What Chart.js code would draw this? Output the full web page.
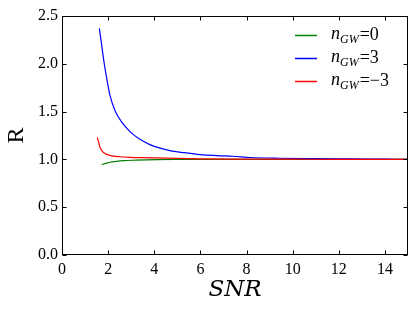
<!DOCTYPE html>
<html>
<head>
<meta charset="utf-8">
<script src="https://cdn.jsdelivr.net/npm/chart.js@4"></script>
<style>
html,body{margin:0;padding:0;background:#fff;}
#wrap{width:415px;height:312px;}
</style>
</head>
<body>
<div id="wrap"><canvas id="c" width="415" height="312"></canvas></div>
<script>
const xTicks = [0, 2, 4, 6, 8, 10, 12, 14];
const yTicks = [0.0, 0.5, 1.0, 1.5, 2.0, 2.5];
const seriesLabels = ["0", "3", "\u22123"];
const seriesColors = ["#008000", "#0000ff", "#ff0000"];

const snrGreen = [1.72, 1.9, 2.08, 2.35, 2.66, 3.2, 4.1, 5, 6, 8, 10, 12, 15];
const rGreen   = [0.945, 0.958, 0.970, 0.979, 0.987, 0.992, 0.997, 0.999, 1.0, 1.0, 1.0, 1.0, 1.0];

const snrBlue = [1.62, 1.72, 1.82, 1.94, 2.08, 2.3, 2.59, 2.95, 3.31, 3.81, 4.3, 4.68, 5.3, 5.98, 6.7, 7.42, 8.15, 9.45, 11, 12.5, 14, 15];
const rBlue   = [2.37, 2.195, 2.02, 1.845, 1.67, 1.51, 1.39, 1.29, 1.22, 1.155, 1.115, 1.092, 1.07, 1.05, 1.04, 1.033, 1.02, 1.012, 1.008, 1.005, 1.002, 1.0];

const snrRed = [1.53, 1.6, 1.65, 1.75, 1.86, 2.0, 2.22, 2.5, 2.95, 3.5, 4.1, 5, 6, 8, 10, 12, 15];
const rRed   = [1.23, 1.17, 1.125, 1.085, 1.062, 1.048, 1.035, 1.028, 1.022, 1.018, 1.015, 1.01, 1.006, 1.003, 1.002, 1.001, 1.0];

function pts(xs, ys){ return xs.map((x,i)=>({x:x, y:ys[i]})); }

const serif = "'Liberation Serif', 'Times New Roman', serif";

const frameTicks = {
  id: 'frameTicks',
  afterDraw(chart){
    const ctx = chart.ctx, ca = chart.chartArea;
    const xs = chart.scales.x, ys = chart.scales.y;
    const L = Math.round(ca.left)+0.5, R = Math.round(ca.right)-0.5;
    const T = Math.round(ca.top)+0.5, B = Math.round(ca.bottom)-0.5;
    ctx.save();
    ctx.strokeStyle = '#000';
    ctx.lineWidth = 1;
    ctx.beginPath();
    xTicks.forEach(v=>{
      const p = Math.round(xs.getPixelForValue(v))+0.5;
      ctx.moveTo(p, B); ctx.lineTo(p, B-4);
      ctx.moveTo(p, T); ctx.lineTo(p, T+4);
    });
    yTicks.forEach(v=>{
      const p = Math.round(ys.getPixelForValue(v))+0.5;
      ctx.moveTo(L, p); ctx.lineTo(L+4, p);
      ctx.moveTo(R, p); ctx.lineTo(R-4, p);
    });
    ctx.stroke();
    ctx.strokeRect(L, T, R-L, B-T);
    // legend
    const x0 = 295, x1 = 317, tx = 331;
    const rows = [35, 58, 81];
    chart.data.datasets.forEach((ds, i)=>{
      const y = rows[i];
      ctx.strokeStyle = ds.borderColor;
      ctx.lineWidth = 1.5;
      ctx.beginPath(); ctx.moveTo(x0, y+0.5); ctx.lineTo(x1, y+0.5); ctx.stroke();
      ctx.fillStyle = '#000';
      ctx.textBaseline = 'alphabetic';
      ctx.textAlign = 'left';
      let x = tx;
      ctx.font = "italic 18px " + serif;
      ctx.fillText('n', x, y+4); x += ctx.measureText('n').width;
      ctx.font = "italic 12px " + serif;
      ctx.fillText('GW', x, y+8); x += ctx.measureText('GW').width + 1;
      ctx.font = "18px " + serif;
      ctx.fillText('=' + seriesLabels[i], x, y+5);
    });
    ctx.restore();
  }
};

new Chart(document.getElementById('c'), {
  type: 'line',
  data: {
    datasets: [
      {label: 'n_GW=0', data: pts(snrGreen, rGreen), borderColor: seriesColors[0], order: 2},
      {label: 'n_GW=3', data: pts(snrBlue, rBlue), borderColor: seriesColors[1], order: 1},
      {label: 'n_GW=-3', data: pts(snrRed, rRed), borderColor: seriesColors[2], order: 0}
    ]
  },
  options: {
    responsive: false,
    animation: false,
    devicePixelRatio: 1,
    layout: {padding: {left: 0, right: 7, top: 16, bottom: 0}},
    elements: {
      point: {radius: 0},
      line: {borderWidth: 1.2, cubicInterpolationMode: 'monotone', fill: false}
    },
    plugins: {legend: {display: false}, tooltip: {enabled: false}},
    scales: {
      x: {
        type: 'linear', min: 0, max: 15,
        afterFit(s){ s.height = 57; },
        afterBuildTicks(s){ s.ticks = xTicks.map(v=>({value:v})); },
        grid: {display: false, drawTicks: false},
        border: {display: false},
        ticks: {padding: 5, color: '#000', font: {family: serif, size: 16}, maxRotation: 0, autoSkip: false},
        title: {display: true, text: 'SNR', color: '#000', font: {family: "'DejaVu Serif', serif", size: 23, style: 'italic'}, padding: {top: 0, bottom: 8}}
      },
      y: {
        type: 'linear', min: 0, max: 2.5,
        afterFit(s){ s.width = 62; },
        afterBuildTicks(s){ s.ticks = yTicks.map(v=>({value:v})); },
        grid: {display: false, drawTicks: false},
        border: {display: false},
        ticks: {padding: 4, color: '#000', font: {family: serif, size: 16}, callback: v => Number(v).toFixed(1), autoSkip: false},
        title: {display: true, text: 'R', color: '#000', font: {family: serif, size: 24}, padding: {top: 2, bottom: 0}}
      }
    }
  },
  plugins: [frameTicks]
});
</script>
</body>
</html>
